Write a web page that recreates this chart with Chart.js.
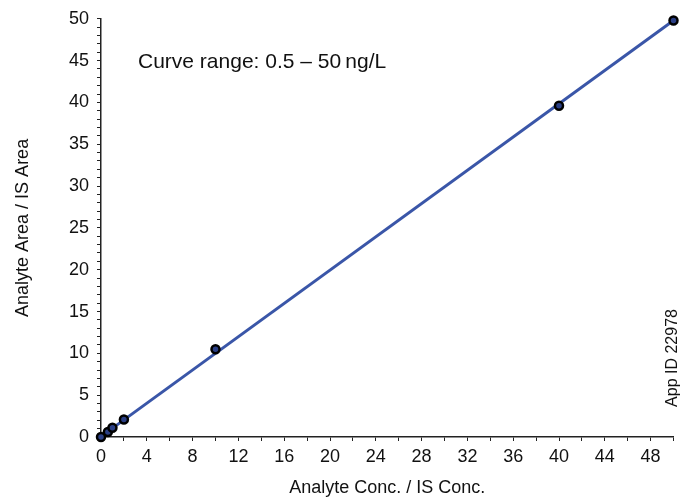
<!DOCTYPE html>
<html>
<head>
<meta charset="utf-8">
<script src="https://cdn.jsdelivr.net/npm/chart.js@4/dist/chart.umd.min.js"></script>
<style>
  html, body { margin: 0; padding: 0; background: #fff; }
  #wrap { width: 680px; height: 501px; }
</style>
</head>
<body>
<div id="wrap"><canvas id="cal-chart"></canvas></div>
<script>
// calibration standards (concentration ratio vs area ratio)
const stdConc = [0, 0.6, 1, 2, 10, 40, 50];
const stdArea = [0, 0.6, 1.1, 2.1, 10.5, 39.6, 49.8];
// fitted curve end points
const fitConc = [0.5, 50];
const fitArea = [0.55, 49.8];

const xTitle = 'Analyte Conc. / IS Conc.';
const yTitle = 'Analyte Area / IS Area';
const rangeNote = 'Curve range: 0.5 \u2013 50\u2009ng/L';
const appId = 'App ID 22978';

const FONT = "'Liberation Sans', Arial, Helvetica, sans-serif";

const notes = {
    id: 'notes',
    afterDraw(chart) {
        const ctx = chart.ctx;
        ctx.save();
        ctx.fillStyle = '#111';
        ctx.font = '21px ' + FONT;
        ctx.textBaseline = 'alphabetic';
        ctx.textAlign = 'left';
        ctx.fillText(rangeNote, 138, 68);

        ctx.font = '16px ' + FONT;
        ctx.translate(677, 358);
        ctx.rotate(-Math.PI / 2);
        ctx.textAlign = 'center';
        ctx.textBaseline = 'alphabetic';
        ctx.fillText(appId, 0, 0);
        ctx.restore();
    }
};

function initCalChart() {
    const canvas = document.getElementById('cal-chart');

    new Chart(canvas, {
        type: 'scatter',
        data: {
            datasets: [{
                label: 'Standards',
                data: stdConc.map((x, i) => ({x: x, y: stdArea[i]})),
                pointRadius: 4,
                pointBorderWidth: 2.5,
                pointBorderColor: '#000',
                pointBackgroundColor: '#2a3f86',
                clip: false,
                order: 0
            }, {
                label: 'Fit',
                type: 'line',
                data: fitConc.map((x, i) => ({x: x, y: fitArea[i]})),
                borderColor: '#3a56a8',
                borderWidth: 3,
                pointRadius: 0,
                fill: false,
                clip: false,
                order: 1
            }]
        },
        options: {
            responsive: true,
            maintainAspectRatio: false,
            animation: false,
            layout: {padding: {top: 17, right: 6, left: 0, bottom: 0}},
            plugins: {
                legend: {display: false},
                tooltip: {enabled: false}
            },
            scales: {
                x: {
                    type: 'linear',
                    min: 0,
                    max: 50,
                    afterFit: (s) => { s.height = 64; },
                    border: {display: true, color: '#222', width: 1.5},
                    grid: {drawOnChartArea: false, drawTicks: true, tickLength: 4, color: '#222', lineWidth: 1},
                    ticks: {
                        stepSize: 2,
                        autoSkip: false,
                        maxRotation: 0,
                        padding: 5,
                        color: '#111',
                        font: {family: FONT, size: 18},
                        callback: (v) => (v % 4 === 0 ? String(v) : '')
                    },
                    title: {
                        display: true,
                        text: xTitle,
                        color: '#111',
                        font: {family: FONT, size: 18},
                        padding: {top: 2, bottom: 2}
                    }
                },
                y: {
                    type: 'linear',
                    min: 0,
                    max: 50,
                    afterFit: (s) => { s.width = 101; },
                    border: {display: true, color: '#222', width: 1.5},
                    grid: {drawOnChartArea: false, drawTicks: true, tickLength: 4, color: '#222', lineWidth: 1},
                    ticks: {
                        stepSize: 1,
                        autoSkip: false,
                        padding: 8,
                        color: '#111',
                        font: {family: FONT, size: 18},
                        callback: (v) => (v % 5 === 0 ? String(v) : '')
                    },
                    title: {
                        display: true,
                        text: yTitle,
                        color: '#111',
                        font: {family: FONT, size: 18},
                        padding: {top: 12, bottom: 4}
                    }
                }
            }
        },
        plugins: [notes]
    });
}

document.addEventListener('DOMContentLoaded', initCalChart);
</script>
</body>
</html>
